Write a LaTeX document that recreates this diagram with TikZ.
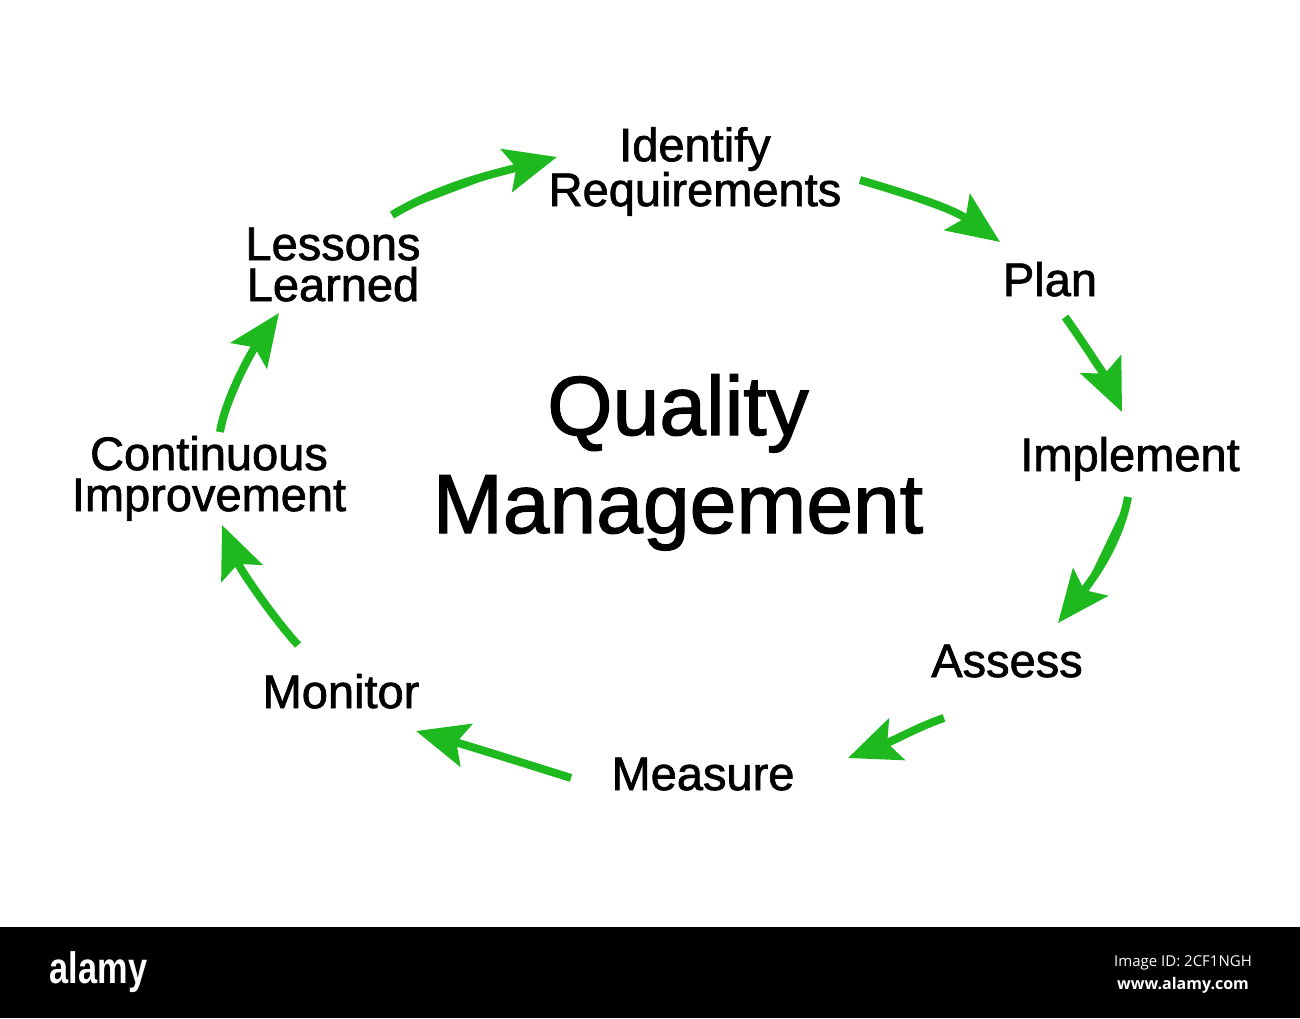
\documentclass[tikz,border=0pt]{standalone}
\usepackage{fontspec}
\usepackage{graphicx}
\setmainfont{Liberation Sans}
\newfontfamily\lblfont[FakeBold=1.5]{Liberation Sans}
\newfontfamily\alamyfont{Open Sans}
\usetikzlibrary{arrows.meta}
\definecolor{arrowgreen}{RGB}{30,185,30}
\begin{document}
\begin{tikzpicture}[x=1pt,y=-1pt,
  lbl/.style={font=\lblfont\fontsize{47}{41}\selectfont, align=center, inner sep=0pt, anchor=base},
  ttl/.style={font=\lblfont\fontsize{84}{98}\selectfont, align=center, inner sep=0pt, anchor=base},
  flow/.style={draw=arrowgreen, fill=arrowgreen, line width=8pt, -{Stealth[length=52pt,width=44pt,inset=10pt]}},
  wmtext/.style={text=white, inner sep=0pt, anchor=base}]
\useasboundingbox (0,0) rectangle (1300,1018);
\fill[white] (0,0) rectangle (1300,1018);
\fill[black] (0,927) rectangle (1300,1018);

% labels (multi-line nodes are placed by the baseline of their last line)
\node[lbl] (ident) at (695,206) {Identify\\Requirements};
\node[lbl] (plan) at (1050,296) {Plan};
\node[lbl] (impl) at (1130,471) {Implement};
\node[lbl] (assess) at (1007,677) {Assess};
\node[lbl] (measure) at (703,790) {Measure};
\node[lbl] (monitor) at (341,708) {Monitor};
\node[lbl] (contin) at (209,511) {Continuous\\Improvement};
\node[lbl] (lessons) at (333,301) {Lessons\\Learned};
\node[ttl] (qm) at (678,533) {Quality\\Management};

% arrow end points
\coordinate (a1s) at (392,215); \coordinate (a1e) at (557,157);
\coordinate (a2s) at (860,180); \coordinate (a2e) at (1000,242);
\coordinate (a3s) at (1065,317); \coordinate (a3e) at (1122,412);
\coordinate (a4s) at (1128,497); \coordinate (a4e) at (1058,623);
\coordinate (a5s) at (944,718); \coordinate (a5e) at (848,758);
\coordinate (a6s) at (571,778); \coordinate (a6e) at (416,731);
\coordinate (a7s) at (298,645); \coordinate (a7e) at (222,525);
\coordinate (a8s) at (220,432); \coordinate (a8e) at (279,313);

\draw[flow] (a1s) .. controls (442,185) and (497,173) .. (a1e);
\draw[flow] (a2s) .. controls (900,192) and (950,207) .. (a2e);
\draw[flow] (a3s) .. controls (1080,337) and (1110,385) .. (a3e);
\draw[flow] (a4s) .. controls (1120,540) and (1096,575) .. (a4e);
\draw[flow] (a5s) .. controls (920,726) and (895,740) .. (a5e);
\draw[flow] (a6s) .. controls (530,765) and (469,746) .. (a6e);
\draw[flow] (a7s) .. controls (275,620) and (241,571) .. (a7e);
\draw[flow] (a8s) .. controls (225,400) and (250,354) .. (a8e);

% watermark bar
\node[wmtext, font=\fontsize{44}{44}\selectfont\bfseries] (alamy) at (98.5,983) {\scalebox{0.78}[1]{alamy}};
\node[wmtext, font=\alamyfont\fontsize{15}{15}\selectfont] (imgid) at (1183,966) {Image ID: 2CF1NGH};
\node[wmtext, font=\alamyfont\fontsize{16}{16}\selectfont\bfseries] (www) at (1183,989) {www.alamy.com};
\end{tikzpicture}
\end{document}
